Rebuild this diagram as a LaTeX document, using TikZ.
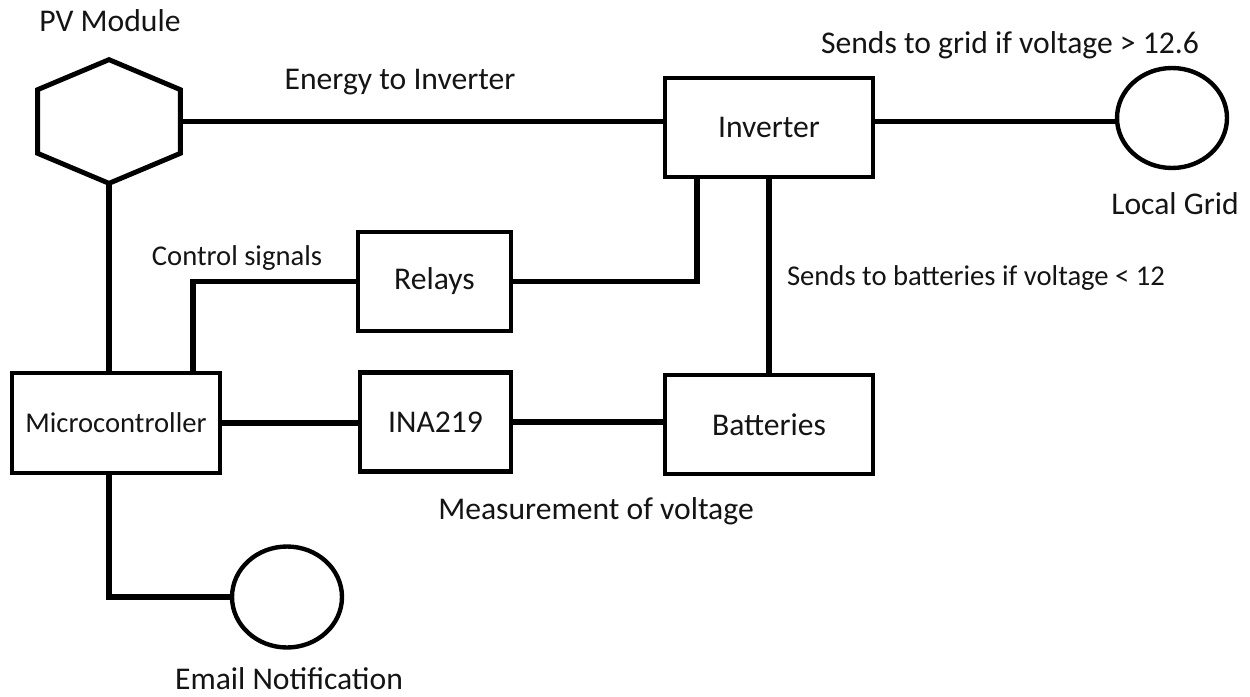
\documentclass[tikz,border=0pt]{standalone}
\usepackage{fontspec}
\setmainfont{Carlito}
\usetikzlibrary{shapes.geometric,calc}
\begin{document}
\begin{tikzpicture}[x=0.02cm,y=-0.02cm,
  box/.style={draw, line width=2.3pt, inner sep=0pt, minimum height=1.98cm},
  ring/.style={draw, ellipse, line width=2.5pt, inner sep=0pt, minimum width=2.2cm, minimum height=2cm},
  wire/.style={line width=2.9pt},
  big/.style={font=\fontsize{18}{20}\selectfont, text=black!92},
  small/.style={font=\fontsize{16.3}{18}\selectfont, text=black!92}]
\useasboundingbox (0,0) rectangle (1250,696);

% PV module hexagon
\node[minimum width=2.84cm, minimum height=2.46cm, inner sep=0pt] (pv) at (109,121.5) {};
\draw[line width=2.8pt, line join=miter]
  (pv.north) -- ($(pv.north east)+(0,30)$) -- ($(pv.south east)+(0,-30)$) -- (pv.south)
  -- ($(pv.south west)+(0,-30)$) -- ($(pv.north west)+(0,30)$) -- cycle;

\node[box, big, minimum width=4.16cm] (inv) at (769,127.5) {Inverter};
\node[box, big, minimum width=3.06cm] (rel) at (434.5,281.5) {Relays};
\node[box, small, minimum width=4.16cm, minimum height=2cm] (mc) at (116,423) {Microcontroller};
\node[box, big, minimum width=3.02cm] (ina) at (435.5,422) {INA219};
\node[box, big, minimum width=4.16cm] (bat) at (769,424.5) {Batteries};
\node[ring] (grid) at (1172,118) {};
\node[ring, minimum height=2.02cm] (email) at (287,597) {};

% labels
\node[big] (lpv) at (110,21) {PV Module};
\node[big] (lenergy) at (400,82) {Energy to Inverter};
\node[big] (lsend) at (1010,45) {Sends to grid if voltage > 12.6};
\node[big] (lgrid) at (1175,204) {Local Grid};
\node[small] (lctrl) at (237,258) {Control signals};
\node[small] (lbat) at (976,278) {Sends to batteries if voltage < 12};
\node[big] (lmeas) at (596,511) {Measurement of voltage};
\node[big] (lemail) at (289,679) {Email Notification};

\coordinate (j1) at (697,283);
\coordinate (j2) at (193,285);

% connectors
\draw[wire] (pv.east) -- (pv.east -| inv.west);
\draw[wire] (inv.east |- pv.east) -- (grid.west |- pv.east);
\draw[wire] (rel.east) -- (rel.east -| j1) -- (inv.south -| j1);
\draw[wire] (inv.south) -- (bat.north);
\draw[wire] (rel.west) -- (j2 |- rel.west) -- (j2 |- mc.north);
\draw[wire] (pv.south) -- (pv.south |- mc.north);
\draw[wire] (mc.east) -- (mc.east -| ina.west);
\draw[wire] (ina.east) -- (ina.east -| bat.west);
\draw[wire] (pv.south |- mc.south) -- (pv.south |- email.west) -- (email.west);
\end{tikzpicture}
\end{document}
